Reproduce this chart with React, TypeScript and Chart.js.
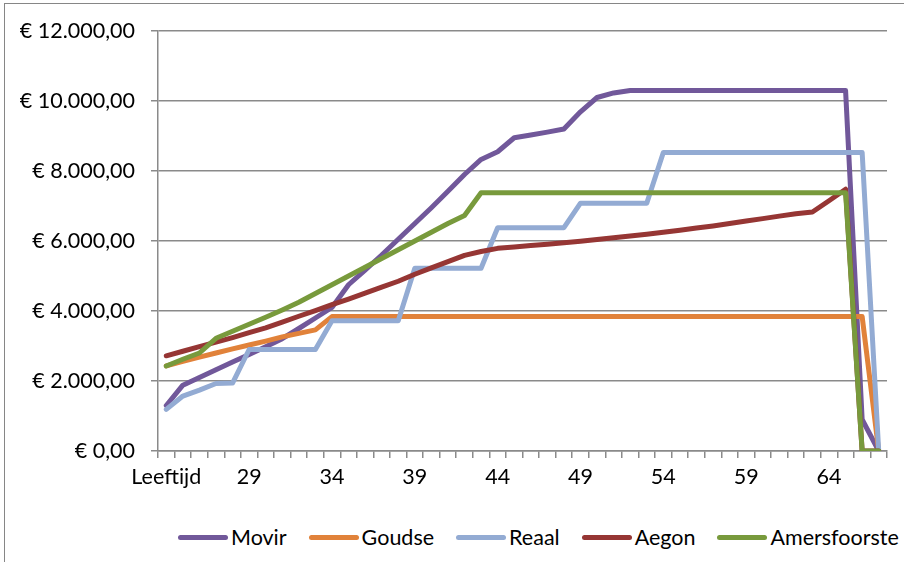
import React, { useEffect, useRef } from "react";
import { Chart, registerables } from "chart.js";

Chart.register(...registerables);

const ageLabels = [
  "Leeftijd", "25", "26", "27", "28", "29", "30", "31", "32", "33", "34",
  "35", "36", "37", "38", "39", "40", "41", "42", "43", "44",
  "45", "46", "47", "48", "49", "50", "51", "52", "53", "54",
  "55", "56", "57", "58", "59", "60", "61", "62", "63", "64",
  "65", "66", "67",
];

const movir = [
  1300, 1880, 2100, 2320, 2540, 2760, 2980, 3210, 3500, 3800,
  4100, 4750, 5170, 5600, 6050, 6500, 6950, 7420, 7900, 8330,
  8550, 8950, 9030, 9110, 9200, 9690, 10100, 10230,
  10300, 10300, 10300, 10300, 10300, 10300, 10300, 10300, 10300, 10300,
  10300, 10300, 10300, 10300, 900, 0,
];

const goudse = [
  2430, 2560, 2680, 2800, 2920, 3030, 3140, 3260, 3360, 3460,
  3840, 3840, 3840, 3840, 3840, 3840, 3840, 3840, 3840, 3840,
  3840, 3840, 3840, 3840, 3840, 3840, 3840, 3840, 3840, 3840,
  3840, 3840, 3840, 3840, 3840, 3840, 3840, 3840, 3840, 3840,
  3840, 3840, 3840, 0,
];

const reaal = [
  1190, 1570, 1740, 1930, 1940,
  2900, 2900, 2900, 2900, 2900,
  3720, 3720, 3720, 3720, 3720,
  5220, 5220, 5220, 5220, 5220,
  6380, 6380, 6380, 6380, 6380,
  7080, 7080, 7080, 7080, 7080,
  8530, 8530, 8530, 8530, 8530, 8530, 8530, 8530, 8530, 8530,
  8530, 8530, 8530, 0,
];

const aegon = [
  2720, 2850, 2980, 3110, 3240, 3380, 3520, 3680, 3850, 4010,
  4180, 4340, 4510, 4680, 4850, 5050, 5230, 5410, 5590, 5700,
  5790, 5830, 5870, 5910, 5950, 5995, 6040, 6090, 6140, 6190,
  6250, 6310, 6370, 6430, 6500, 6570, 6640, 6710, 6780, 6830,
  7150, 7480, 0, 0,
];

const amersfoorste = [
  2430, 2620, 2800, 3220, 3420, 3620, 3820, 4030, 4250, 4500,
  4750, 5000, 5250, 5500, 5750, 6000, 6250, 6500, 6730, 7380,
  7380, 7380, 7380, 7380, 7380, 7380, 7380, 7380, 7380, 7380,
  7380, 7380, 7380, 7380, 7380, 7380, 7380, 7380, 7380, 7380,
  7380, 7380, 0, 0,
];

const seriesNames = ["Movir", "Goudse", "Reaal", "Aegon", "Amersfoorste"];
const seriesData = [movir, goudse, reaal, aegon, amersfoorste];
const seriesColors = ["#71589a", "#e1823a", "#93abd3", "#963634", "#789a3c"];

const yTicks = [0, 2000, 4000, 6000, 8000, 10000, 12000];

const gridColor = "#8a8a8a";
const FONT = "Lato, 'Liberation Sans', sans-serif";
const FONT_SIZE = 21.5;

function euro(v: number): string {
  const s = Math.round(v).toString().replace(/\B(?=(\d{3})+(?!\d))/g, ".");
  return "€ " + s + ",00";
}

export default function App() {
  const ref = useRef<HTMLCanvasElement>(null);

  useEffect(() => {
    if (!ref.current) return;
    const chart = new Chart(ref.current, {
      type: "line",
      data: {
        labels: ageLabels,
        datasets: seriesNames.map((name, i) => ({
          label: name,
          data: seriesData[i],
          borderColor: seriesColors[i],
          backgroundColor: seriesColors[i],
          borderWidth: 5,
          pointRadius: 0,
          tension: 0,
          fill: false,
          borderCapStyle: "round",
          borderJoinStyle: "round",
          order: seriesNames.length - i,
        })),
      },
      options: {
        animation: false,
        responsive: false,
        layout: { padding: { top: 31, right: 17, left: 0, bottom: 0 } },
        plugins: {
          legend: { display: false },
          tooltip: { enabled: false },
        },
        font: { family: FONT },
        scales: {
          x: {
            type: "category",
            offset: true,
            grid: {
              offset: true,
              drawOnChartArea: false,
              drawTicks: true,
              tickLength: 7,
              color: gridColor,
              lineWidth: 1.5,
            },
            border: { display: true, color: gridColor, width: 1.5 },
            ticks: {
              autoSkip: false,
              maxRotation: 0,
              minRotation: 0,
              padding: 6,
              color: "#000",
              font: { family: FONT, size: FONT_SIZE },
              callback: (_v: any, i: number) => (i % 5 === 0 ? ageLabels[i] : ""),
            },
            afterFit: (s: any) => {
              s.height = 54;
            },
          },
          y: {
            min: yTicks[0],
            max: yTicks[yTicks.length - 1],
            afterBuildTicks: (s: any) => {
              s.ticks = yTicks.map((v) => ({ value: v }));
            },
            ticks: {
              padding: 16,
              color: "#000",
              font: { family: FONT, size: FONT_SIZE },
              callback: (v: any) => euro(Number(v)),
            },
            grid: { color: gridColor, lineWidth: 1.5, tickLength: 7, drawTicks: true },
            border: { display: true, color: gridColor, width: 1.5 },
            afterFit: (s: any) => {
              s.width = 158;
            },
          },
        },
      } as any,
    });
    return () => chart.destroy();
  }, []);

  return (
    <div
      style={{
        position: "absolute",
        left: 0,
        top: 0,
        width: 904,
        height: 562,
        overflow: "hidden",
        background: "#fff",
        fontFamily: FONT,
      }}
    >
      <div
        style={{
          position: "absolute",
          left: 4,
          top: 3,
          width: 940,
          height: 640,
          border: "1px solid #868686",
        }}
      />
      <canvas
        ref={ref}
        width={904}
        height={505}
        style={{ position: "absolute", left: 0, top: 0, width: 904, height: 505 }}
      />
      <div
        style={{
          position: "absolute",
          left: 178,
          top: 524,
          height: 26,
          display: "flex",
          alignItems: "center",
          whiteSpace: "nowrap",
        }}
      >
        {seriesNames.map((name, i) => (
          <div key={name} style={{ display: "flex", alignItems: "center", marginRight: 22 }}>
            <span
              style={{
                display: "inline-block",
                width: 50,
                height: 5,
                borderRadius: 3,
                background: seriesColors[i],
                marginRight: 3,
              }}
            />
            <span style={{ fontSize: FONT_SIZE, color: "#000", lineHeight: "26px" }}>{name}</span>
          </div>
        ))}
      </div>
    </div>
  );
}
